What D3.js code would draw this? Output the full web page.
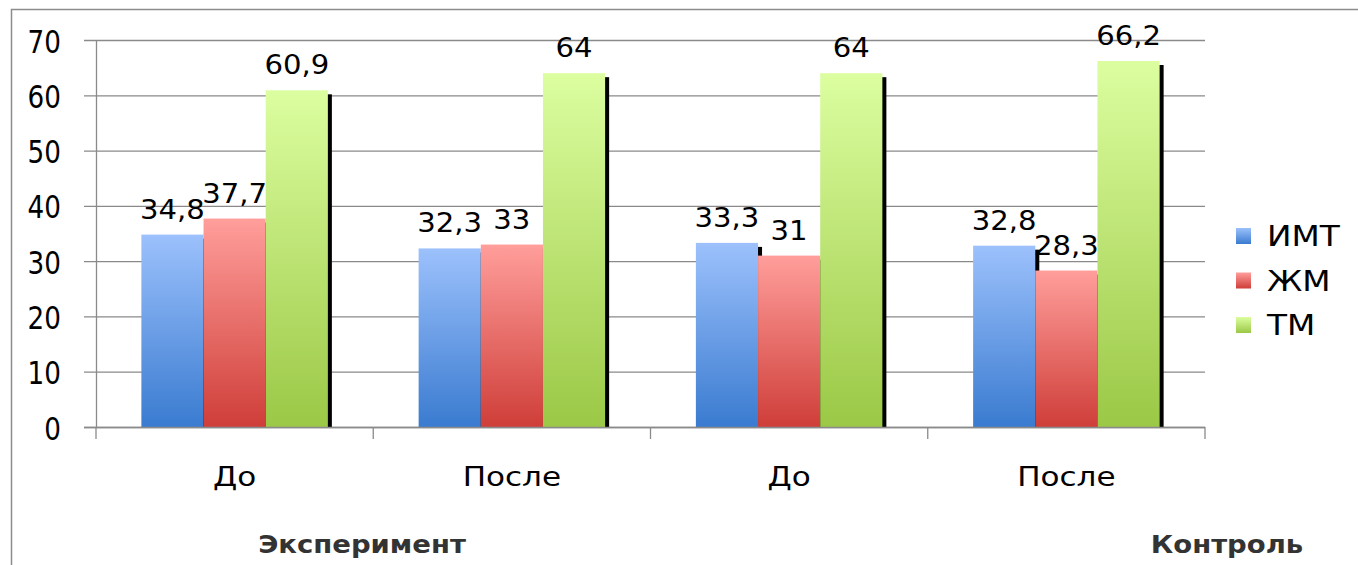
<!DOCTYPE html>
<html>
<head>
<meta charset="utf-8">
<script src="https://cdnjs.cloudflare.com/ajax/libs/d3/7.8.5/d3.min.js"></script>
<style>
  body { margin: 0; background: #fff; }
  text { font-family: "DejaVu Sans", Verdana, sans-serif; fill: #000; }
</style>
</head>
<body>
<div id="chart"></div>
<script>
var categories = ["До", "После", "До", "После"];
var series = ["ИМТ", "ЖМ", "ТМ"];
var imt = [34.8, 32.3, 33.3, 32.8];
var zhm = [37.7, 33, 31, 28.3];
var tm = [60.9, 64, 64, 66.2];
var yTicks = [0, 10, 20, 30, 40, 50, 60, 70];
var groups = [{name: "Эксперимент", x: 362}, {name: "Контроль", x: 1227}];

var values = [imt, zhm, tm];
var colors = [
    {top: "#9cc1fc", bottom: "#3a7bd0"},
    {top: "#ff9e9b", bottom: "#cf3e39"},
    {top: "#dcfea0", bottom: "#9bc846"}
];

var width = 1358, height = 565;
var plot = {left: 96, right: 1205, top: 40, bottom: 427};

var svg = d3.select("#chart").append("svg")
    .attr("width", width)
    .attr("height", height);

// the source picture is stretched sideways, so the text is too
function place(sx, fx, fy) {
    return function(d, i) {
        return "translate(" + fx(d, i) + "," + fy(d, i) + ") scale(" + sx + ",1)";
    };
}

var defs = svg.append("defs");
colors.forEach(function(c, i) {
    var g = defs.append("linearGradient")
        .attr("id", "grad" + i)
        .attr("x1", 0).attr("y1", 0).attr("x2", 0).attr("y2", 1);
    g.append("stop").attr("offset", "0%").attr("stop-color", c.top);
    g.append("stop").attr("offset", "100%").attr("stop-color", c.bottom);
});

// outer frame
svg.append("rect")
    .attr("x", 11.5).attr("y", 9.5)
    .attr("width", 1400).attr("height", 600)
    .attr("fill", "none")
    .attr("stroke", "#8c8c8c")
    .attr("stroke-width", 1.5);

var x0 = d3.scaleBand()
    .domain(d3.range(categories.length))
    .range([plot.left, plot.right]);

var x1 = d3.scaleBand()
    .domain(d3.range(series.length))
    .range([0, x0.bandwidth()])
    .paddingOuter(0.73)
    .paddingInner(0);

var y = d3.scaleLinear()
    .domain([0, 70])
    .range([plot.bottom, plot.top]);

// gridlines
svg.append("g")
    .selectAll("line")
    .data(yTicks)
    .enter().append("line")
    .attr("x1", plot.left - 12)
    .attr("x2", plot.right)
    .attr("y1", function(d) { return y(d) + 0.5; })
    .attr("y2", function(d) { return y(d) + 0.5; })
    .attr("stroke", "#8a8a8a")
    .attr("stroke-width", 1.3);

svg.append("line")
    .attr("x1", plot.left + 0.5).attr("x2", plot.left + 0.5)
    .attr("y1", plot.top).attr("y2", plot.bottom)
    .attr("stroke", "#8a8a8a")
    .attr("stroke-width", 1.3);

// y tick labels
svg.append("g")
    .selectAll("text")
    .data(yTicks)
    .enter().append("text")
    .attr("transform", place(0.82, function() { return 61; }, function(d) { return y(d) + 1; }))
    .attr("dy", "0.36em")
    .attr("text-anchor", "end")
    .style("font-size", "32px")
    .text(function(d) { return d; });

// category ticks
svg.append("g")
    .selectAll("line")
    .data(d3.range(categories.length + 1))
    .enter().append("line")
    .attr("x1", function(d) { return plot.left + d * x0.bandwidth(); })
    .attr("x2", function(d) { return plot.left + d * x0.bandwidth(); })
    .attr("y1", plot.bottom)
    .attr("y2", plot.bottom + 12)
    .attr("stroke", "#8a8a8a")
    .attr("stroke-width", 1.3);

var bars = [];
categories.forEach(function(c, ci) {
    series.forEach(function(s, si) {
        bars.push({c: ci, s: si, v: values[si][ci]});
    });
});

// shadows
svg.append("g")
    .selectAll("rect")
    .data(bars)
    .enter().append("rect")
    .attr("x", function(d) { return x0(d.c) + x1(d.s) + 4; })
    .attr("y", function(d) { return y(d.v) + 4; })
    .attr("width", x1.bandwidth())
    .attr("height", function(d) { return plot.bottom - y(d.v) - 4; })
    .attr("fill", "#000");

// bars
svg.append("g")
    .selectAll("rect")
    .data(bars)
    .enter().append("rect")
    .attr("x", function(d) { return x0(d.c) + x1(d.s); })
    .attr("y", function(d) { return y(d.v); })
    .attr("width", x1.bandwidth())
    .attr("height", function(d) { return plot.bottom - y(d.v); })
    .attr("fill", function(d) { return "url(#grad" + d.s + ")"; });

svg.append("line")
    .attr("x1", plot.left - 12).attr("x2", plot.right)
    .attr("y1", plot.bottom + 0.5).attr("y2", plot.bottom + 0.5)
    .attr("stroke", "#8a8a8a")
    .attr("stroke-width", 1.3);

// value labels
svg.append("g")
    .selectAll("text")
    .data(bars)
    .enter().append("text")
    .attr("transform", place(1.12,
        function(d) { return x0(d.c) + x1(d.s) + x1.bandwidth() / 2; },
        function(d) { return y(d.v) - 16; }))
    .attr("text-anchor", "middle")
    .style("font-size", "26px")
    .text(function(d) { return String(d.v).replace(".", ","); });

// category labels
svg.append("g")
    .selectAll("text")
    .data(categories)
    .enter().append("text")
    .attr("transform", place(1.15,
        function(d, i) { return x0(i) + x0.bandwidth() / 2; },
        function() { return 486; }))
    .attr("text-anchor", "middle")
    .style("font-size", "27px")
    .text(function(d) { return d; });

// group labels
svg.append("g")
    .selectAll("text")
    .data(groups)
    .enter().append("text")
    .attr("transform", place(1.1, function(d) { return d.x; }, function() { return 553; }))
    .attr("text-anchor", "middle")
    .style("font-size", "25px")
    .style("font-weight", "bold")
    .style("fill", "#333")
    .text(function(d) { return d.name; });

// legend
var legend = svg.append("g")
    .selectAll("g")
    .data(series)
    .enter().append("g")
    .attr("transform", function(d, i) { return "translate(1236," + (236 + i * 44.5) + ")"; });

legend.append("rect")
    .attr("x", 0).attr("y", -8)
    .attr("width", 15).attr("height", 16)
    .attr("fill", function(d, i) { return "url(#grad" + i + ")"; });

legend.append("text")
    .attr("transform", "translate(31,0) scale(1.17,1)")
    .attr("dy", "0.36em")
    .style("font-size", "28px")
    .text(function(d) { return d; });
</script>
</body>
</html>
